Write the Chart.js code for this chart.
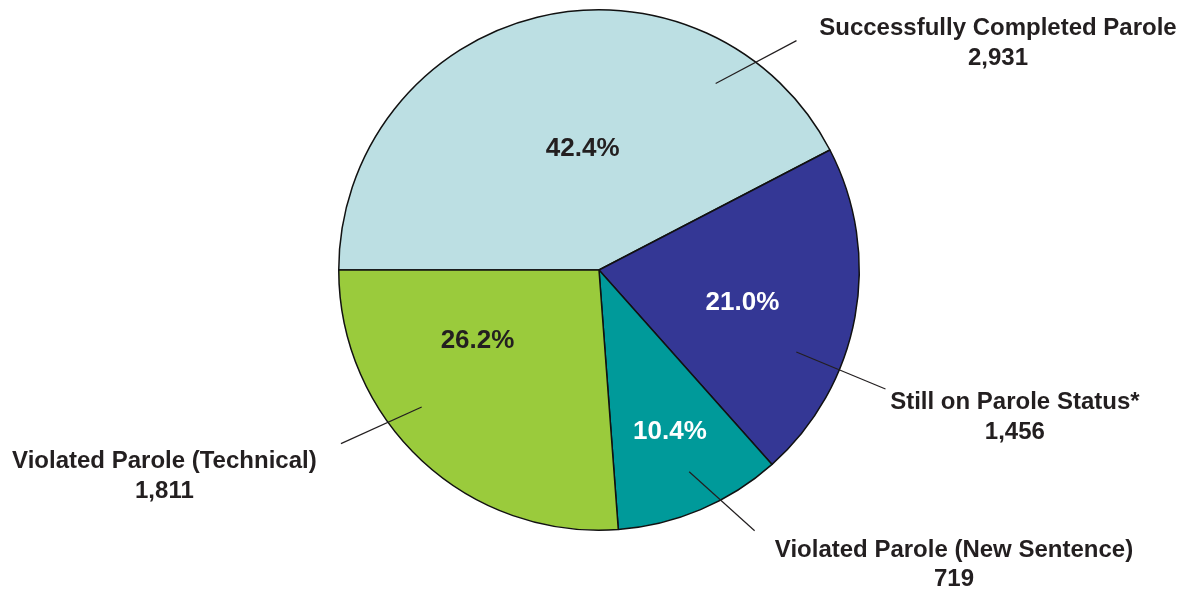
<!DOCTYPE html>
<html>
<head>
<meta charset="utf-8">
<script src="https://cdn.jsdelivr.net/npm/chart.js@4.4.1/dist/chart.umd.min.js"></script>
<style>
  html, body { margin: 0; padding: 0; background: #ffffff; }
  #wrap { width: 1182px; height: 589px; position: relative; }
</style>
</head>
<body>
<div id="wrap"><canvas id="c" width="1182" height="589"></canvas></div>
<script>
const categories = ["Successfully Completed Parole", "Still on Parole Status*", "Violated Parole (New Sentence)", "Violated Parole (Technical)"];
const counts = [2931, 1456, 719, 1811];
const percentLabels = ["42.4%", "21.0%", "10.4%", "26.2%"];
const countLabels = ["2,931", "1,456", "719", "1,811"];

const sliceColors = ["#BCDFE3", "#343795", "#009A9A", "#9ACB3C"];
const pctColors = ["#231F20", "#FFFFFF", "#FFFFFF", "#231F20"];
const TEXT = "#231F20";
const FONT = '"Liberation Sans", Arial, Helvetica, sans-serif';

// label layout (style): fraction of slice angle t, radius fraction r
const pctPos = [{t:0.54, r:0.471}, {t:0.53, r:0.565}, {t:0.48, r:0.678}, {t:0.68, r:0.540}];
const leader = [
  {t1:0.80, r1:0.845, t2:0.857, r2:1.163},
  {t1:0.66, r1:0.821, t2:0.66, r2:1.192},
  {t1:0.47, r1:0.849, t2:0.29, r2:1.167},
  {t1:0.60, r1:0.861, t2:0.64, r2:1.195}
];
// text center relative to pie center, in units of radius
const textPos = [{dx:1.533, dy:-0.927}, {dx:1.598, dy:0.510}, {dx:1.364, dy:1.077}, {dx:-1.670, dy:0.736}];

const labelPlugin = {
  id: 'labels',
  afterDatasetsDraw(chart) {
    const ctx = chart.ctx;
    const meta = chart.getDatasetMeta(0);
    ctx.save();
    meta.data.forEach((arc, i) => {
      const p = arc.getProps(['x','y','startAngle','endAngle','outerRadius'], true);
      const R = p.outerRadius;
      const at = (t) => p.startAngle + (p.endAngle - p.startAngle) * t;
      const pt = (a, r) => [p.x + Math.cos(a) * R * r, p.y + Math.sin(a) * R * r];
      // percent label
      const pp = pt(at(pctPos[i].t), pctPos[i].r);
      ctx.font = 'bold 26px ' + FONT;
      ctx.fillStyle = pctColors[i];
      ctx.textAlign = 'center';
      ctx.textBaseline = 'middle';
      ctx.fillText(percentLabels[i], pp[0], pp[1]);
      // leader line
      const L = leader[i];
      const a1 = pt(at(L.t1), L.r1), a2 = pt(at(L.t2), L.r2);
      ctx.beginPath();
      ctx.strokeStyle = '#231F20';
      ctx.lineWidth = 1.2;
      ctx.moveTo(a1[0], a1[1]);
      ctx.lineTo(a2[0], a2[1]);
      ctx.stroke();
      // outside label
      const tx = p.x + textPos[i].dx * R, ty = p.y + textPos[i].dy * R;
      ctx.font = 'bold 24px ' + FONT;
      ctx.fillStyle = TEXT;
      ctx.fillText(categories[i], tx, ty);
      ctx.fillText(countLabels[i], tx, ty + 29.5);
    });
    ctx.restore();
  }
};

new Chart(document.getElementById('c'), {
  type: 'pie',
  data: {
    labels: categories,
    datasets: [{
      data: counts,
      backgroundColor: sliceColors,
      borderColor: '#111111',
      borderWidth: 1.5
    }]
  },
  options: {
    responsive: false,
    animation: false,
    rotation: -90,
    layout: { padding: { top: 9, bottom: 58, left: 16, right: 0 } },
    plugins: { legend: { display: false }, tooltip: { enabled: false } }
  },
  plugins: [labelPlugin]
});
</script>
</body>
</html>
